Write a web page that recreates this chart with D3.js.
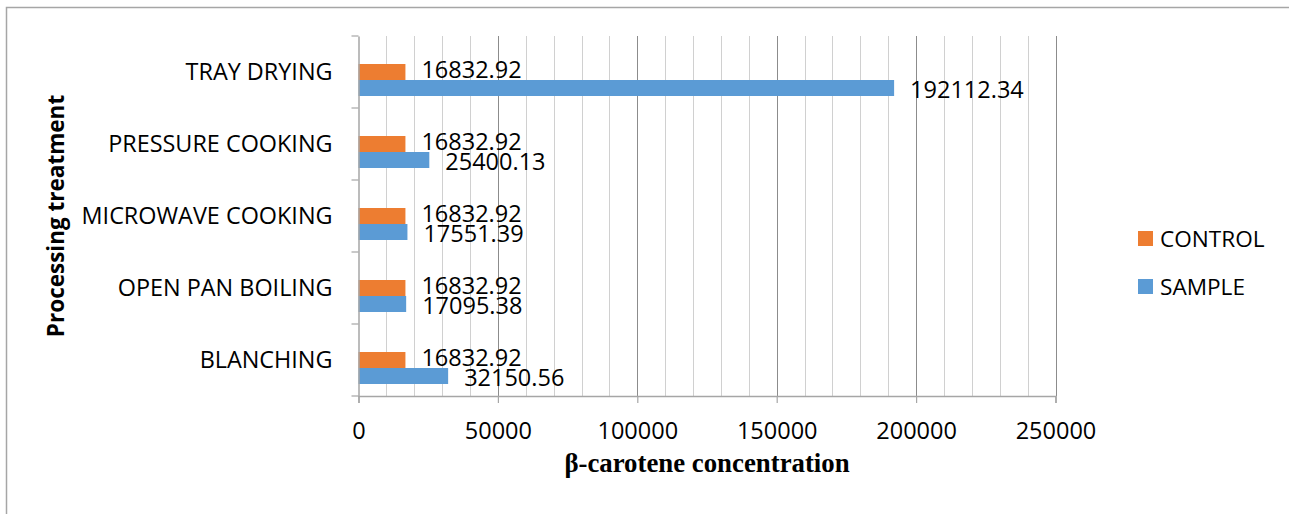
<!DOCTYPE html>
<html>
<head>
<meta charset="utf-8">
<script src="https://cdn.jsdelivr.net/npm/d3@7"></script>
<style>
  html, body { margin: 0; padding: 0; background: #fff; }
  svg { display: block; }
</style>
</head>
<body>
<svg id="chart" width="1289" height="514"></svg>
<script>
const categories = ["TRAY DRYING", "PRESSURE COOKING", "MICROWAVE COOKING", "OPEN PAN BOILING", "BLANCHING"];
const seriesNames = ["CONTROL", "SAMPLE"];
const controlValues = [16832.92, 16832.92, 16832.92, 16832.92, 16832.92];
const sampleValues = [192112.34, 25400.13, 17551.39, 17095.38, 32150.56];
const xTicks = [0, 50000, 100000, 150000, 200000, 250000];
const xTitle = "β-carotene concentration";
const yTitle = "Processing treatment";

(function () {
const colors = { CONTROL: "#ED7D31", SAMPLE: "#5B9BD5" };
const svg = d3.select("#chart");
const W = 1289, H = 514;
const pLeft = 358.5, pRight = 1055.5, pTop = 36, pBottom = 396;

// outer border
svg.append("path")
  .attr("d", `M6.5,${H} L6.5,7.5 L${W},7.5`)
  .attr("fill", "none").attr("stroke", "#a6a6a6").attr("stroke-width", 1.5);

const x = d3.scaleLinear().domain([0, 250000]).range([pLeft, pRight]);
const y0 = d3.scaleBand().domain(categories).range([pTop, pBottom]);
const y1 = d3.scaleBand().domain(["_", ...seriesNames]).range([0, y0.bandwidth()])
  .paddingInner(0).paddingOuter(0.75);

const rows = categories.map((c, i) => ({ cat: c, CONTROL: controlValues[i], SAMPLE: sampleValues[i] }));

// gridlines (minor every 10000, major every 50000)
const minor = d3.range(10000, 250001, 10000);
svg.append("g").selectAll("line").data(minor).join("line")
  .attr("x1", d => Math.round(x(d)) + 0.5).attr("x2", d => Math.round(x(d)) + 0.5)
  .attr("y1", pTop).attr("y2", pBottom)
  .attr("stroke", d => d % 50000 === 0 ? "#8c8c8c" : "#d0d0d0")
  .attr("stroke-width", 1);

// bars
const g = svg.append("g");
rows.forEach(r => {
  seriesNames.forEach(s => {
    g.append("rect")
      .attr("x", x(0))
      .attr("y", y0(r.cat) + y1(s))
      .attr("width", x(r[s]) - x(0))
      .attr("height", y1.bandwidth())
      .attr("fill", colors[s]);
  });
});

// data labels (control label nudged up, sample label down so they do not collide)
const fmt = v => v.toFixed(2);
const nudge = { CONTROL: -2.5, SAMPLE: 1.5 };
rows.forEach(r => {
  seriesNames.forEach(s => {
    g.append("text")
      .attr("x", x(r[s]) + 16)
      .attr("y", y0(r.cat) + y1(s) + y1.bandwidth() / 2 + nudge[s])
      .attr("dy", "0.36em")
      .attr("font-family", "'Open Sans', sans-serif")
      .attr("font-size", 23.5)
      .attr("fill", "#000")
      .text(fmt(r[s]));
  });
});

// x axis
const xAxis = svg.append("g").attr("transform", `translate(0,${pBottom})`)
  .call(d3.axisBottom(x).tickValues(xTicks).tickSize(7).tickFormat(d3.format("d")));
xAxis.select(".domain").attr("stroke", "#a6a6a6").attr("stroke-width", 1.5);
xAxis.selectAll(".tick line").attr("stroke", "#a6a6a6").attr("stroke-width", 1.2);
xAxis.selectAll(".tick text")
  .attr("font-family", "'Open Sans', sans-serif").attr("font-size", 23.5)
  .attr("fill", "#000").attr("y", 26);

// y axis
const yAxis = svg.append("g").attr("transform", `translate(${pLeft},0)`)
  .call(d3.axisLeft(y0).tickSize(0).tickPadding(26));
yAxis.select(".domain").attr("stroke", "#a6a6a6").attr("stroke-width", 1.5);
yAxis.selectAll(".tick text")
  .attr("font-family", "'Open Sans', sans-serif").attr("font-size", 23.4)
  .attr("fill", "#000");
// category boundary ticks
const bounds = categories.map(c => y0(c)).concat([pBottom]);
yAxis.selectAll(".bt").data(bounds).join("line").attr("class", "bt")
  .attr("x1", -7).attr("x2", 0)
  .attr("y1", d => d).attr("y2", d => d)
  .attr("stroke", "#a6a6a6").attr("stroke-width", 1.2);

// axis titles
svg.append("text")
  .attr("x", (pLeft + pRight) / 2).attr("y", 472)
  .attr("text-anchor", "middle")
  .attr("font-family", "'Liberation Serif', 'Times New Roman', serif")
  .attr("font-weight", "bold").attr("font-size", 26.8)
  .attr("fill", "#000").text(xTitle);

svg.append("text")
  .attr("transform", `translate(64,${(pTop + pBottom) / 2}) rotate(-90)`)
  .attr("text-anchor", "middle")
  .attr("font-family", "'Open Sans', sans-serif")
  .attr("font-weight", "bold").attr("font-size", 22.5)
  .attr("fill", "#000").text(yTitle);

// legend
const legend = svg.append("g");
seriesNames.forEach((s, i) => {
  const ly = 231 + i * 48;
  legend.append("rect").attr("x", 1138).attr("y", ly).attr("width", 15).attr("height", 15)
    .attr("fill", colors[s]);
  legend.append("text").attr("x", 1160).attr("y", ly + 7.5).attr("dy", "0.36em")
    .attr("font-family", "'Open Sans', sans-serif").attr("font-size", 22.6)
    .attr("fill", "#000").text(s);
});
})();
</script>
</body>
</html>
